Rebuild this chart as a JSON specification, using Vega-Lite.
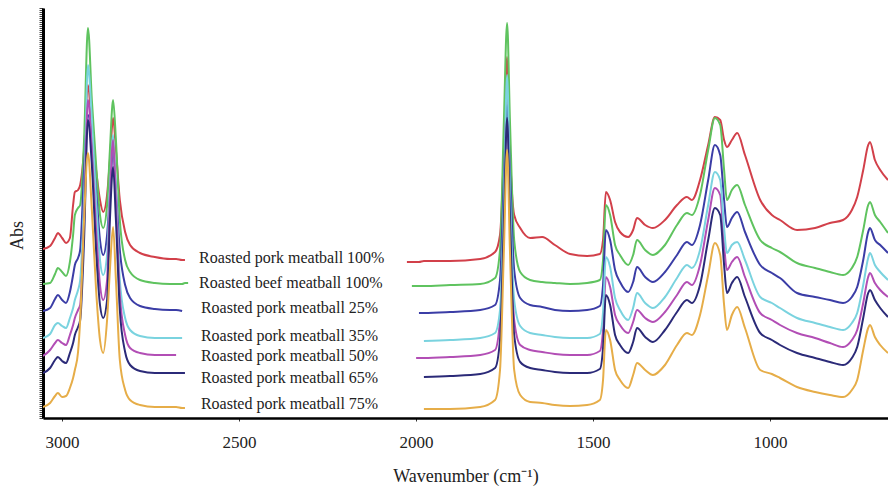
{
  "$schema": "https://vega.github.io/schema/vega-lite/v6.json",
  "width": 845,
  "height": 410,
  "autosize": {"type": "none"},
  "padding": {"left": 43, "top": 8, "right": 0, "bottom": 73},
  "background": "white",
  "config": {"view": {"stroke": null}, "font": "Liberation Serif"},
  "datasets": {
    "spectra": [
      {"seg":"L","w":3054,"r":1.69,"g":1.34,"b":1.07,"c":0.80,"m":0.62,"n":0.45,"o":0.11},
      {"seg":"L","w":3034,"r":1.72,"g":1.35,"b":1.10,"c":0.84,"m":0.68,"n":0.50,"o":0.15},
      {"seg":"L","w":3020,"r":1.80,"g":1.44,"b":1.19,"c":0.93,"m":0.75,"n":0.58,"o":0.22},
      {"seg":"L","w":3012,"r":1.85,"g":1.50,"b":1.23,"c":0.95,"m":0.78,"n":0.61,"o":0.25},
      {"seg":"L","w":3000,"r":1.80,"g":1.46,"b":1.18,"c":0.92,"m":0.75,"n":0.57,"o":0.21},
      {"seg":"L","w":2989,"r":1.75,"g":1.42,"b":1.15,"c":0.90,"m":0.73,"n":0.55,"o":0.22},
      {"seg":"L","w":2978,"r":1.80,"g":1.56,"b":1.26,"c":1.00,"m":0.83,"n":0.65,"o":0.30},
      {"seg":"L","w":2969,"r":2.13,"g":1.83,"b":1.43,"c":1.10,"m":0.93,"n":0.75,"o":0.40},
      {"seg":"L","w":2964,"r":2.26,"g":2.03,"b":1.53,"c":1.18,"m":1.00,"n":0.83,"o":0.48},
      {"seg":"L","w":2955,"r":2.28,"g":2.10,"b":1.60,"c":1.28,"m":1.08,"n":0.91,"o":0.66},
      {"seg":"L","w":2949,"r":2.33,"g":2.13,"b":1.68,"c":1.38,"m":1.13,"n":0.98,"o":0.98},
      {"seg":"L","w":2938,"r":2.68,"g":2.78,"b":2.48,"c":2.18,"m":1.98,"n":1.78,"o":1.98},
      {"seg":"L","w":2927,"r":3.33,"g":3.90,"b":3.03,"c":3.53,"m":3.18,"n":2.98,"o":2.65},
      {"seg":"L","w":2916,"r":2.88,"g":3.18,"b":2.78,"c":2.98,"m":2.68,"n":2.53,"o":2.08},
      {"seg":"L","w":2904,"r":2.48,"g":2.53,"b":2.28,"c":2.18,"m":1.88,"n":1.68,"o":1.28},
      {"seg":"L","w":2893,"r":2.18,"g":2.03,"b":1.78,"c":1.58,"m":1.33,"n":1.13,"o":0.78},
      {"seg":"L","w":2884,"r":2.06,"g":1.90,"b":1.63,"c":1.43,"m":1.18,"n":1.00,"o":0.65},
      {"seg":"L","w":2873,"r":2.23,"g":2.13,"b":1.83,"c":1.63,"m":1.38,"n":1.18,"o":0.98},
      {"seg":"L","w":2865,"r":2.58,"g":2.68,"b":2.23,"c":2.28,"m":2.18,"n":1.98,"o":1.48},
      {"seg":"L","w":2856,"r":3.00,"g":3.18,"b":2.68,"c":2.83,"m":2.78,"n":2.51,"o":1.91},
      {"seg":"L","w":2848,"r":2.68,"g":2.78,"b":2.28,"c":2.28,"m":2.18,"n":1.98,"o":1.38},
      {"seg":"L","w":2837,"r":2.18,"g":1.98,"b":1.68,"c":1.38,"m":1.23,"n":1.08,"o":0.58},
      {"seg":"L","w":2822,"r":1.86,"g":1.58,"b":1.33,"c":1.00,"m":0.83,"n":0.66,"o":0.28},
      {"seg":"L","w":2808,"r":1.73,"g":1.46,"b":1.20,"c":0.88,"m":0.70,"n":0.53,"o":0.18},
      {"seg":"L","w":2780,"r":1.65,"g":1.38,"b":1.12,"c":0.82,"m":0.65,"n":0.47,"o":0.13},
      {"seg":"L","w":2738,"r":1.61,"g":1.35,"b":1.09,"c":0.80,"m":0.63,"n":0.45,"o":0.11},
      {"seg":"L","w":2695,"r":1.59,"g":1.34,"b":1.08,"c":0.80,"m":0.63,"n":0.45,"o":0.11},
      {"seg":"L","w":2678,"r":1.59,"g":1.34,"b":1.08,"c":0.80,"m":0.63,"n":0.45,"o":0.11},
      {"seg":"L","w":2661,"r":1.58,"g":1.34,"b":1.07,"c":0.80,"n":0.45,"o":0.10},
      {"seg":"L","w":2653,"r":1.58,"g":1.35,"n":0.45,"o":0.10},
      {"seg":"L","w":2644,"g":1.35},
      {"seg":"R","w":2026,"r":1.56},
      {"seg":"R","w":2012,"r":1.56,"g":1.32},
      {"seg":"R","w":2000,"r":1.56,"g":1.32,"m":0.60},
      {"seg":"R","w":1992,"r":1.56,"g":1.32,"m":0.60,"b":1.05},
      {"seg":"R","w":1978,"r":1.57,"g":1.32,"b":1.05,"c":0.77,"m":0.60,"n":0.41,"o":0.09},
      {"seg":"R","w":1904,"r":1.57,"g":1.33,"b":1.06,"c":0.78,"m":0.61,"n":0.42,"o":0.09},
      {"seg":"R","w":1819,"r":1.59,"g":1.34,"b":1.08,"c":0.80,"m":0.63,"n":0.44,"o":0.11},
      {"seg":"R","w":1777,"r":1.66,"g":1.40,"b":1.13,"c":0.85,"m":0.68,"n":0.50,"o":0.18},
      {"seg":"R","w":1763,"r":1.83,"g":1.68,"b":1.38,"c":1.08,"m":0.98,"n":0.78,"o":0.48},
      {"seg":"R","w":1752,"r":2.68,"g":2.98,"b":2.38,"c":2.18,"m":2.08,"n":1.98,"o":1.68},
      {"seg":"R","w":1743,"r":3.61,"g":3.95,"b":3.13,"c":3.43,"m":3.23,"n":3.00,"o":2.68},
      {"seg":"R","w":1735,"r":2.68,"g":2.98,"b":2.48,"c":2.28,"m":2.18,"n":2.03,"o":1.68},
      {"seg":"R","w":1723,"r":2.03,"g":1.78,"b":1.48,"c":1.18,"m":0.98,"n":0.83,"o":0.48},
      {"seg":"R","w":1706,"r":1.90,"g":1.46,"b":1.20,"c":0.92,"m":0.73,"n":0.56,"o":0.23},
      {"seg":"R","w":1678,"r":1.80,"g":1.38,"b":1.13,"c":0.85,"m":0.68,"n":0.50,"o":0.16},
      {"seg":"R","w":1644,"r":1.81,"g":1.36,"b":1.11,"c":0.83,"m":0.66,"n":0.48,"o":0.15},
      {"seg":"R","w":1608,"r":1.73,"g":1.35,"b":1.08,"c":0.81,"m":0.64,"n":0.46,"o":0.13},
      {"seg":"R","w":1565,"r":1.64,"g":1.34,"b":1.07,"c":0.80,"m":0.63,"n":0.45,"o":0.12},
      {"seg":"R","w":1517,"r":1.62,"g":1.35,"b":1.08,"c":0.80,"m":0.63,"n":0.45,"o":0.13},
      {"seg":"R","w":1481,"r":1.64,"g":1.38,"b":1.12,"c":0.84,"m":0.67,"n":0.49,"o":0.18},
      {"seg":"R","w":1472,"r":1.78,"g":1.58,"b":1.33,"c":1.06,"m":0.88,"n":0.70,"o":0.38},
      {"seg":"R","w":1464,"r":2.26,"g":2.13,"b":1.88,"c":1.61,"m":1.41,"n":1.23,"o":0.88},
      {"seg":"R","w":1452,"r":2.18,"g":2.03,"b":1.78,"c":1.51,"m":1.31,"n":1.13,"o":0.78},
      {"seg":"R","w":1438,"r":1.96,"g":1.73,"b":1.48,"c":1.20,"m":1.03,"n":0.83,"o":0.48},
      {"seg":"R","w":1424,"r":1.86,"g":1.63,"b":1.36,"c":1.08,"m":0.93,"n":0.73,"o":0.38},
      {"seg":"R","w":1401,"r":1.81,"g":1.53,"b":1.26,"c":0.98,"m":0.85,"n":0.65,"o":0.30},
      {"seg":"R","w":1387,"r":1.88,"g":1.63,"b":1.36,"c":1.10,"m":0.96,"n":0.76,"o":0.43},
      {"seg":"R","w":1376,"r":2.00,"g":1.78,"b":1.51,"c":1.25,"m":1.08,"n":0.90,"o":0.55},
      {"seg":"R","w":1353,"r":1.93,"g":1.68,"b":1.41,"c":1.15,"m":1.00,"n":0.81,"o":0.48},
      {"seg":"R","w":1331,"r":1.90,"g":1.63,"b":1.36,"c":1.10,"m":0.96,"n":0.76,"o":0.43},
      {"seg":"R","w":1297,"r":1.98,"g":1.73,"b":1.46,"c":1.21,"m":1.06,"n":0.88,"o":0.53},
      {"seg":"R","w":1263,"r":2.13,"g":1.93,"b":1.63,"c":1.40,"m":1.23,"n":1.06,"o":0.73},
      {"seg":"R","w":1235,"r":2.21,"g":2.05,"b":1.76,"c":1.53,"m":1.36,"n":1.18,"o":0.85},
      {"seg":"R","w":1221,"r":2.18,"g":2.03,"b":1.73,"c":1.50,"m":1.33,"n":1.15,"o":0.83},
      {"seg":"R","w":1198,"r":2.38,"g":2.23,"b":1.93,"c":1.68,"m":1.53,"n":1.33,"o":1.03},
      {"seg":"R","w":1175,"r":2.73,"g":2.68,"b":2.38,"c":2.13,"m":1.98,"n":1.78,"o":1.43},
      {"seg":"R","w":1156,"r":3.01,"g":3.00,"b":2.73,"c":2.46,"m":2.30,"n":2.10,"o":1.75},
      {"seg":"R","w":1141,"r":2.98,"g":2.93,"b":2.63,"c":2.38,"m":2.23,"n":2.03,"o":1.63},
      {"seg":"R","w":1130,"r":2.78,"g":2.48,"b":2.18,"c":1.90,"m":1.73,"n":1.53,"o":1.13},
      {"seg":"R","w":1122,"r":2.71,"g":2.18,"b":1.91,"c":1.65,"m":1.48,"n":1.25,"o":0.88},
      {"seg":"R","w":1108,"r":2.78,"g":2.28,"b":2.00,"c":1.73,"m":1.56,"n":1.35,"o":1.03},
      {"seg":"R","w":1093,"r":2.85,"g":2.33,"b":2.06,"c":1.76,"m":1.61,"n":1.41,"o":1.11},
      {"seg":"R","w":1071,"r":2.63,"g":2.13,"b":1.86,"c":1.58,"m":1.41,"n":1.21,"o":0.90},
      {"seg":"R","w":1028,"r":2.18,"g":1.78,"b":1.53,"c":1.21,"m":1.05,"n":0.85,"o":0.48},
      {"seg":"R","w":995,"r":2.03,"g":1.70,"b":1.45,"c":1.15,"m":0.98,"n":0.78,"o":0.44},
      {"seg":"R","w":972,"r":1.98,"g":1.66,"b":1.40,"c":1.10,"m":0.93,"n":0.73,"o":0.40},
      {"seg":"R","w":924,"r":1.88,"g":1.55,"b":1.25,"c":1.00,"m":0.85,"n":0.65,"o":0.31},
      {"seg":"R","w":873,"r":1.90,"g":1.50,"b":1.21,"c":0.95,"m":0.80,"n":0.60,"o":0.26},
      {"seg":"R","w":831,"r":1.95,"g":1.46,"b":1.18,"c":0.91,"m":0.75,"n":0.56,"o":0.23},
      {"seg":"R","w":794,"r":1.98,"g":1.43,"b":1.15,"c":0.88,"m":0.71,"n":0.53,"o":0.21},
      {"seg":"R","w":769,"r":2.08,"g":1.50,"b":1.21,"c":0.95,"m":0.78,"n":0.60,"o":0.28},
      {"seg":"R","w":754,"r":2.21,"g":1.61,"b":1.31,"c":1.05,"m":0.88,"n":0.71,"o":0.38},
      {"seg":"R","w":737,"r":2.48,"g":1.88,"b":1.58,"c":1.33,"m":1.15,"n":1.00,"o":0.68},
      {"seg":"R","w":723,"r":2.73,"g":2.13,"b":1.86,"c":1.60,"m":1.41,"n":1.25,"o":0.90},
      {"seg":"R","w":718,"r":2.76,"g":2.16,"b":1.90,"c":1.65,"m":1.45,"n":1.28,"o":0.93},
      {"seg":"R","w":704,"r":2.58,"g":2.03,"b":1.78,"c":1.53,"m":1.35,"n":1.18,"o":0.81},
      {"seg":"R","w":689,"r":2.48,"g":1.96,"b":1.73,"c":1.46,"m":1.28,"n":1.10,"o":0.73},
      {"seg":"R","w":667,"r":2.38,"g":1.85,"b":1.65,"c":1.38,"m":1.21,"n":1.01,"o":0.65}
    ],
    "labels": [
      {"w":2613,"a":1.60,"label":"Roasted pork meatball 100%"},
      {"w":2613,"a":1.35,"label":"Roasted beef meatball 100%"},
      {"w":2608,"a":1.10,"label":"Roasted pork meatball 25%"},
      {"w":2608,"a":0.82,"label":"Roasted pork meatball 35%"},
      {"w":2608,"a":0.62,"label":"Roasted pork meatball 50%"},
      {"w":2608,"a":0.40,"label":"Roasted pork meatball 65%"},
      {"w":2608,"a":0.14,"label":"Roasted pork meatball 75%"}
    ]
  },
  "layer": [
    {
      "data": {"name": "spectra"},
      "transform": [
        {"fold": ["r", "g", "b", "c", "m", "n", "o"], "as": ["s", "a"]},
        {"filter": "datum.a != null"}
      ],
      "mark": {"type": "line", "strokeWidth": 2, "interpolate": "monotone", "clip": true},
      "encoding": {
        "x": {
          "field": "w", "type": "quantitative",
          "scale": {"domain": [3054, 667], "nice": false, "zero": false},
          "axis": {
            "title": "Wavenumber (cm⁻¹)",
            "values": [3000, 2500, 2000, 1500, 1000],
            "format": "d",
            "grid": false,
            "domainWidth": 2.5,
            "domainColor": "black",
            "tickSize": 3,
            "tickColor": "#333",
            "labelFont": "Liberation Serif",
            "labelFontSize": 17,
            "labelColor": "#222",
            "labelPadding": 13,
            "titleFont": "Liberation Serif",
            "titleFontSize": 18,
            "titleFontWeight": "normal",
            "titleColor": "#222",
            "titlePadding": 17
          }
        },
        "y": {
          "field": "a", "type": "quantitative",
          "scale": {"domain": [0, 4.1], "nice": false},
          "axis": {
            "title": "Abs",
            "labels": false,
            "grid": false,
            "domainWidth": 3,
            "domainColor": "black",
            "tickCount": 200,
            "tickSize": 4,
            "tickWidth": 1,
            "tickColor": "#444",
            "titleFont": "Liberation Serif",
            "titleFontSize": 18,
            "titleFontWeight": "normal",
            "titleColor": "#222",
            "titlePadding": 12,
            "titleY": 227
          }
        },
        "color": {
          "field": "s", "type": "nominal",
          "scale": {
            "domain": ["r", "g", "b", "c", "m", "n", "o"],
            "range": ["#d2404a", "#5fc35f", "#3b3da6", "#7ad3df", "#b24eb5", "#2b2a78", "#e6ad48"]
          },
          "legend": null
        },
        "detail": {"field": "seg", "type": "nominal"},
        "order": {"field": "w", "type": "quantitative", "sort": "descending"}
      }
    },
    {
      "data": {"name": "labels"},
      "mark": {"type": "text", "align": "left", "baseline": "middle", "fontSize": 16, "font": "Liberation Serif", "color": "#222"},
      "encoding": {
        "x": {"field": "w", "type": "quantitative"},
        "y": {"field": "a", "type": "quantitative"},
        "text": {"field": "label"}
      }
    }
  ]
}
